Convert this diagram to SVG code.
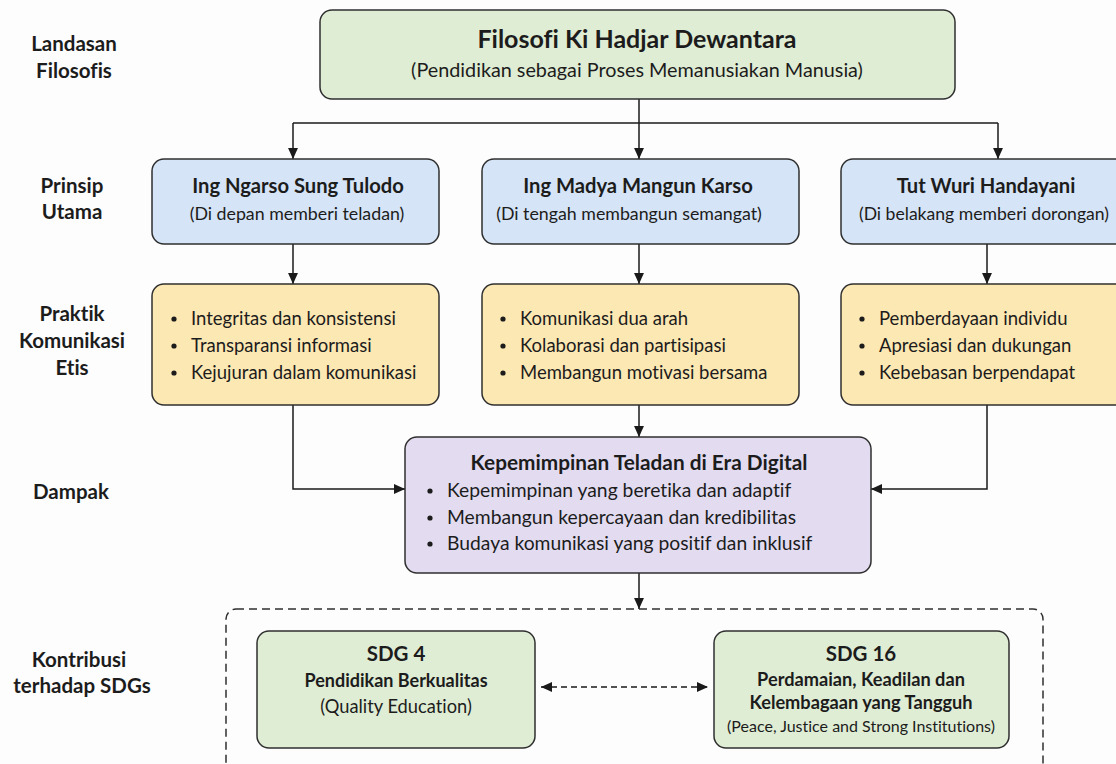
<svg xmlns="http://www.w3.org/2000/svg" width="1116" height="764" viewBox="0 0 1116 764">
<defs>
<marker id="arr" viewBox="0 0 10 10" refX="10" refY="5" markerWidth="11" markerHeight="11" markerUnits="userSpaceOnUse" orient="auto-start-reverse">
<path d="M0,0.5 L10,5 L0,9.5 z" fill="#1a1a1a"/>
</marker>
<style>
text{font-family:Lato,"Open Sans","Liberation Sans",sans-serif;fill:#1c1c1c;font-variant-ligatures:no-common-ligatures;font-feature-settings:"liga" 0,"dlig" 0}
.lbl{font-size:20.5px;font-weight:700;text-anchor:middle}
.box{stroke:#2f2f2f;stroke-width:1.5}
.green{fill:#e0edd5}
.blue{fill:#d5e4f6}
.yellow{fill:#fce8b3}
.purple{fill:#e3dcf1}
.t{font-weight:700;text-anchor:middle}
.s{text-anchor:middle}
.b{font-size:18.5px}
.pb{font-size:19.3px}
.dot{fill:#1c1c1c}
.con{fill:none;stroke:#1a1a1a;stroke-width:1.5}
</style>
</defs>
<rect width="1116" height="764" fill="#fdfdfd"/>

<g id="labels">
<text class="lbl" x="74" y="51">Landasan</text>
<text class="lbl" x="74" y="78">Filosofis</text>
<text class="lbl" x="72" y="193">Prinsip</text>
<text class="lbl" x="72" y="219">Utama</text>
<text class="lbl" x="72" y="321">Praktik</text>
<text class="lbl" x="72" y="348">Komunikasi</text>
<text class="lbl" x="72" y="375">Etis</text>
<text class="lbl" x="71" y="499">Dampak</text>
<text class="lbl" x="79" y="667">Kontribusi</text>
<text class="lbl" x="82" y="693">terhadap SDGs</text>
</g>

<g id="connectors">
<path class="con" d="M639,99 V123"/>
<path class="con" d="M293,123 H998"/>
<path class="con" d="M293,123 V159" marker-end="url(#arr)"/>
<path class="con" d="M639,123 V159" marker-end="url(#arr)"/>
<path class="con" d="M998,123 V159" marker-end="url(#arr)"/>
<path class="con" d="M293,244 V284" marker-end="url(#arr)"/>
<path class="con" d="M639,244 V284" marker-end="url(#arr)"/>
<path class="con" d="M987,244 V284" marker-end="url(#arr)"/>
<path class="con" d="M293,405 V489 H405" marker-end="url(#arr)"/>
<path class="con" d="M639,405 V437" marker-end="url(#arr)"/>
<path class="con" d="M987,405 V489 H871" marker-end="url(#arr)"/>
<path class="con" d="M639,573 V609" marker-end="url(#arr)"/>
<path class="con" d="M541,687 H708" stroke-dasharray="6 4" marker-start="url(#arr)" marker-end="url(#arr)"/>
</g>

<g id="sdg-group">
<rect x="226" y="609" width="817" height="175" rx="10" fill="none" stroke="#2f2f2f" stroke-width="1.5" stroke-dasharray="8 5"/>
</g>

<g id="filosofi">
<rect class="box green" x="320" y="10" width="635" height="89" rx="12"/>
<text class="t" x="637" y="48" font-size="25">Filosofi Ki Hadjar Dewantara</text>
<text class="s" x="637" y="77" font-size="19.8">(Pendidikan sebagai Proses Memanusiakan Manusia)</text>
</g>

<g id="ngarso">
<rect class="box blue" x="152" y="159" width="287" height="85" rx="12"/>
<text class="t" x="298" y="193" font-size="20.2">Ing Ngarso Sung Tulodo</text>
<text class="s" x="297" y="220" font-size="17.8">(Di depan memberi teladan)</text>
</g>

<g id="madya">
<rect class="box blue" x="482" y="159" width="317" height="85" rx="12"/>
<text class="t" x="638" y="193" font-size="20.2">Ing Madya Mangun Karso</text>
<text class="s" x="629" y="220" font-size="17.8">(Di tengah membangun semangat)</text>
</g>

<g id="tutwuri">
<rect class="box blue" x="841" y="159" width="290" height="85" rx="12"/>
<text class="t" x="986" y="193" font-size="20.2">Tut Wuri Handayani</text>
<text class="s" x="984" y="220" font-size="17.6">(Di belakang memberi dorongan)</text>
</g>

<g id="praktik1">
<rect class="box yellow" x="152" y="284" width="287" height="121" rx="12"/>
<circle class="dot" cx="174" cy="319" r="2.6"/>
<circle class="dot" cx="174" cy="346" r="2.6"/>
<circle class="dot" cx="174" cy="373" r="2.6"/>
<text class="b" x="191" y="325">Integritas dan konsistensi</text>
<text class="b" x="191" y="352">Transparansi informasi</text>
<text class="b" x="191" y="379">Kejujuran dalam komunikasi</text>
</g>

<g id="praktik2">
<rect class="box yellow" x="482" y="284" width="317" height="121" rx="12"/>
<circle class="dot" cx="503" cy="319" r="2.6"/>
<circle class="dot" cx="503" cy="346" r="2.6"/>
<circle class="dot" cx="503" cy="373" r="2.6"/>
<text class="b" x="520" y="325">Komunikasi dua arah</text>
<text class="b" x="520" y="352">Kolaborasi dan partisipasi</text>
<text class="b" x="520" y="379">Membangun motivasi bersama</text>
</g>

<g id="praktik3">
<rect class="box yellow" x="841" y="284" width="290" height="121" rx="12"/>
<circle class="dot" cx="862" cy="319" r="2.6"/>
<circle class="dot" cx="862" cy="346" r="2.6"/>
<circle class="dot" cx="862" cy="373" r="2.6"/>
<text class="b" x="879" y="325">Pemberdayaan individu</text>
<text class="b" x="879" y="352">Apresiasi dan dukungan</text>
<text class="b" x="879" y="379">Kebebasan berpendapat</text>
</g>

<g id="dampak">
<rect class="box purple" x="405" y="437" width="466" height="136" rx="12"/>
<text class="t" x="639" y="470" font-size="20.8">Kepemimpinan Teladan di Era Digital</text>
<circle class="dot" cx="430" cy="491" r="2.6"/>
<circle class="dot" cx="430" cy="518" r="2.6"/>
<circle class="dot" cx="430" cy="544" r="2.6"/>
<text class="pb" x="447" y="497">Kepemimpinan yang beretika dan adaptif</text>
<text class="pb" x="447" y="524">Membangun kepercayaan dan kredibilitas</text>
<text class="pb" x="447" y="550">Budaya komunikasi yang positif dan inklusif</text>
</g>

<g id="sdg4">
<rect class="box green" x="257" y="631" width="278" height="117" rx="12"/>
<text class="t" x="396" y="661" font-size="20.5">SDG 4</text>
<text class="t" x="396" y="687" font-size="18">Pendidikan Berkualitas</text>
<text class="s" x="396" y="713" font-size="18.3">(Quality Education)</text>
</g>

<g id="sdg16">
<rect class="box green" x="714" y="631" width="295" height="117" rx="12"/>
<text class="t" x="861" y="661" font-size="20.5">SDG 16</text>
<text class="t" x="861" y="686" font-size="18.2">Perdamaian, Keadilan dan</text>
<text class="t" x="861" y="709" font-size="18.2">Kelembagaan yang Tangguh</text>
<text class="s" x="861" y="732" font-size="16">(Peace, Justice and Strong Institutions)</text>
</g>
</svg>
